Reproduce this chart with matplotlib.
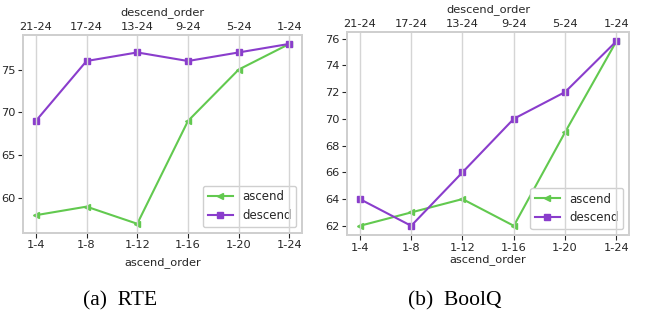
import matplotlib.pyplot as plt

# x positions for the six layer ranges
ascend_labels = ['1-4', '1-8', '1-12', '1-16', '1-20', '1-24']
descend_labels = ['21-24', '17-24', '13-24', '9-24', '5-24', '1-24']

rte_ascend = [58, 59, 57, 69, 75, 78]
rte_descend = [69, 76, 77, 76, 77, 78]

boolq_ascend = [62, 63, 64, 62, 69, 75.8]
boolq_descend = [64, 62, 66, 70, 72, 75.8]

green = '#62c94f'
purple = '#8a3dcc'
frame = '#cfcfcf'
text = '#262626'

plt.rcParams['font.size'] = 8.2
plt.rcParams['text.color'] = text
plt.rcParams['axes.labelcolor'] = text
plt.rcParams['xtick.color'] = text
plt.rcParams['ytick.color'] = text


def draw_panel(fig, rect, ascend, descend, yticks, caption, cap_x, xpad):
    ax = fig.add_axes(rect)
    x = list(range(len(ascend_labels)))
    ax.plot(x, ascend, color=green, marker='<', markersize=4, linewidth=1.5, label='ascend')
    ax.plot(x, descend, color=purple, marker='s', markersize=5, linewidth=1.5, label='descend')
    xlim = (-0.25, len(x) - 0.75)
    ax.set_xlim(xlim)
    ax.set_xticks(x)
    ax.set_xticklabels(ascend_labels)
    ax.set_yticks(yticks)
    ax.set_xlabel('ascend_order', labelpad=xpad)
    ax.tick_params(length=3.5, width=0.8, color=text, pad=2)
    for s in ax.spines.values():
        s.set_color(frame)
        s.set_linewidth(1.3)
    ax.legend(loc='lower right', fontsize=8.5, handlelength=2.1,
              edgecolor=frame, framealpha=1, fancybox=True)

    # top axis with the descending ranges, its grid lines sit over the legend
    top = ax.twiny()
    top.set_xlim(xlim)
    top.set_xticks(x)
    top.set_xticklabels(descend_labels)
    top.set_xlabel('descend_order', labelpad=5)
    top.tick_params(length=0, pad=2)
    top.grid(axis='x', color='#d5d5d5', linewidth=1)
    for s in top.spines.values():
        s.set_color(frame)
        s.set_linewidth(1.3)

    fig.text(cap_x, 0.077, caption, ha='center', va='center',
             family='Liberation Serif', fontsize=15.5, color='black')
    return ax


fig = plt.figure(figsize=(6.61, 3.26), dpi=100)
draw_panel(fig, [0.035, 0.286, 0.422, 0.607], rte_ascend, rte_descend,
           [60, 65, 70, 75], '(a)  RTE', 0.182, 5)
draw_panel(fig, [0.525, 0.279, 0.427, 0.623], boolq_ascend, boolq_descend,
           [62, 64, 66, 68, 70, 72, 74, 76], '(b)  BoolQ', 0.688, 1)

plt.savefig('out.png', dpi=100)
